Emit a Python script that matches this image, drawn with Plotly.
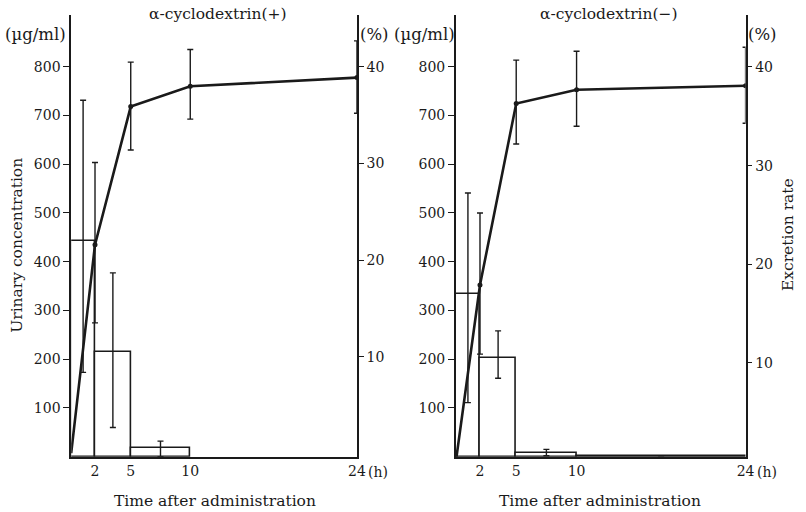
import plotly.graph_objects as go

# ---- data -------------------------------------------------------------
# urinary concentration (µg/ml) per collection interval
left_bar_start = [0, 2, 5]
left_bar_end = [2, 5, 10]
left_conc = [443, 214, 17]
left_conc_plus = [288, 163, 15]
left_conc_minus = [270, 154, 17]

right_bar_start = [0, 2, 5, 10]
right_bar_end = [2, 5, 10, 24]
right_conc = [333, 202, 8, 2]
right_conc_plus = [208, 56, 7, 0]
right_conc_minus = [222, 41, 6, 0]

# cumulative excretion rate (%)
times = [0, 2, 5, 10, 24]
left_rate = [0, 21.6, 35.9, 38.0, 38.9]
left_rate_plus = [0, 8.5, 4.6, 3.8, 3.8]
left_rate_minus = [0, 8.1, 4.5, 3.4, 3.7]

right_rate = [0, 17.9, 36.3, 37.7, 38.1]
right_rate_plus = [0, 7.3, 4.4, 3.9, 3.9]
right_rate_minus = [0, 7.0, 4.1, 3.7, 3.8]

conc_ticks = [100, 200, 300, 400, 500, 600, 700, 800]
rate_ticks = [10, 20, 30, 40]
time_ticks = [2, 5, 10, 24]
time_ticktext = ["2", "5", "10", "24"]

titles = ["α-cyclodextrin(+)", "α-cyclodextrin(−)"]

# ---- figure -----------------------------------------------------------
W, H = 806, 512
FONT = "DejaVu Serif"
INK = "#1a1a1a"


def px(x):
    return x / W


def py(y):
    return 1 - y / H


fig = go.Figure()


def add_panel(xa, ya, ya2, starts, ends, conc, cp, cm, rate, rp, rm):
    centers = [(s + e) / 2 for s, e in zip(starts, ends)]
    widths = [e - s for s, e in zip(starts, ends)]
    fig.add_trace(go.Bar(
        x=centers, y=conc, width=widths, base=0,
        marker=dict(color="white", line=dict(color=INK, width=1.6)),
        error_y=dict(type="data", symmetric=False, array=cp, arrayminus=cm,
                     color=INK, thickness=1.4, width=3),
        xaxis=xa, yaxis=ya, showlegend=False, hoverinfo="skip",
    ))
    fig.add_trace(go.Scatter(
        x=times, y=rate, mode="lines",
        line=dict(color=INK, width=2.6),
        xaxis=xa, yaxis=ya2, showlegend=False, hoverinfo="skip",
    ))
    fig.add_trace(go.Scatter(
        x=times[1:], y=rate[1:], mode="markers",
        marker=dict(color=INK, size=5),
        error_y=dict(type="data", symmetric=False, array=rp[1:],
                     arrayminus=rm[1:], color=INK, thickness=1.4, width=3),
        xaxis=xa, yaxis=ya2, showlegend=False, hoverinfo="skip",
    ))


add_panel("x", "y", "y2", left_bar_start, left_bar_end, left_conc,
          left_conc_plus, left_conc_minus, left_rate, left_rate_plus,
          left_rate_minus)
add_panel("x2", "y3", "y4", right_bar_start, right_bar_end, right_conc,
          right_conc_plus, right_conc_minus, right_rate, right_rate_plus,
          right_rate_minus)

y_dom = [py(456.7), py(15)]
tickfont = dict(family=FONT, size=14, color=INK)
unitfont = dict(family=FONT, size=16.5, color=INK)

xcommon = dict(range=[0, 24], tickvals=time_ticks, ticktext=time_ticktext,
               showline=True, linecolor=INK, linewidth=2, ticks="",
               showgrid=False, zeroline=False, tickfont=tickfont,
               fixedrange=True)
ycommon = dict(range=[0, 906], tickvals=conc_ticks, showline=True,
               linecolor=INK, linewidth=1.6, ticks="outside", ticklen=6,
               tickwidth=1.4, tickcolor=INK, showgrid=False, zeroline=False,
               tickfont=tickfont, domain=y_dom, fixedrange=True)
y2common = dict(tickvals=rate_ticks, showline=True, linecolor=INK,
                linewidth=1.6, ticks="outside", ticklen=5, tickwidth=1.4,
                tickcolor=INK, showgrid=False, zeroline=False,
                tickfont=tickfont, side="right", fixedrange=True)

fig.update_layout(
    width=W, height=H,
    margin=dict(l=0, r=0, t=0, b=0),
    paper_bgcolor="white", plot_bgcolor="white",
    bargap=0,
    xaxis=dict(domain=[px(72), px(361)], anchor="y", **xcommon),
    xaxis2=dict(domain=[px(461), px(754)], anchor="y3", **xcommon),
    yaxis=dict(anchor="x", **ycommon),
    yaxis2=dict(anchor="x", overlaying="y", range=[-0.36, 45.38], **y2common),
    yaxis3=dict(anchor="x2", **ycommon),
    yaxis4=dict(anchor="x2", overlaying="y3", range=[0.5, 45.27], **y2common),
)

lab = dict(family=FONT, size=15.5, color=INK)
notes = [
    (titles[0], 220, 14, 0, lab),
    (titles[1], 616, 14, 0, lab),
    ("(µg/ml)", 36, 34, 0, unitfont),
    ("(%)", 379, 34, 0, unitfont),
    ("(µg/ml)", 429, 34, 0, unitfont),
    ("(%)", 771, 34, 0, unitfont),
    ("Time after administration", 217, 501, 0, lab),
    ("Time after administration", 607, 501, 0, lab),
    ("Urinary concentration", 17, 245, -90, lab),
    ("Excretion rate", 797, 235, -90, lab),
]
for text, x, y, ang, f in notes:
    fig.add_annotation(text=text, x=px(x), y=py(y), xref="paper",
                       yref="paper", showarrow=False, textangle=ang,
                       font=f, xanchor="center", yanchor="middle")

# hour unit after the last time tick
for xa in ("x", "x2"):
    fig.add_annotation(text="(h)", x=24, y=py(472), xref=xa, yref="paper",
                       showarrow=False, xanchor="left", yanchor="middle",
                       xshift=9, font=tickfont)

fig.write_html("out.html")
